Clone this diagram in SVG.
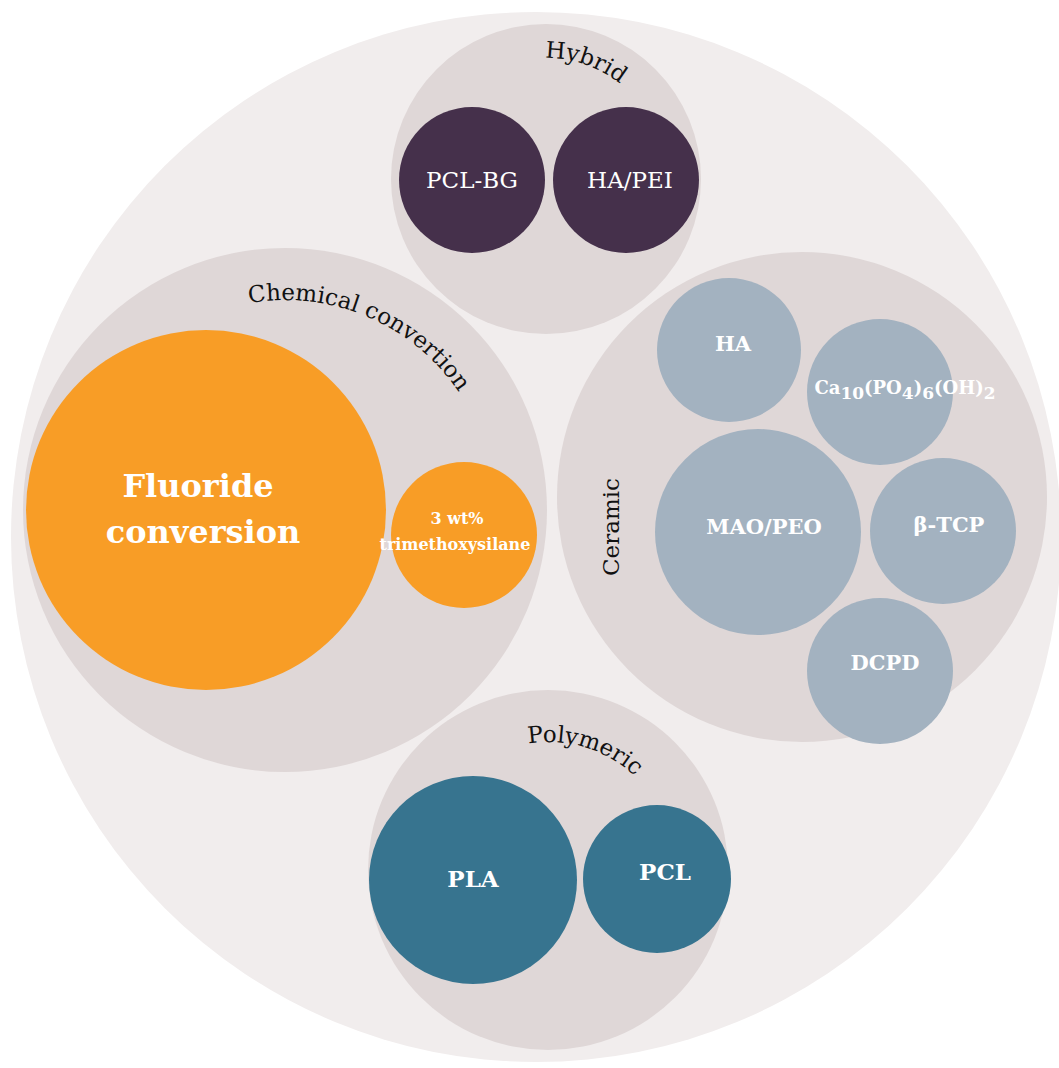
<svg xmlns="http://www.w3.org/2000/svg" width="1059" height="1068" viewBox="0 0 1059 1068">
<style>
.grp{fill:#DFD7D7}
.hy{fill:#45304B}
.or{fill:#F89D26}
.ce{fill:#A3B2C0}
.po{fill:#37748F}
.lbl{font-family:"DejaVu Serif","Liberation Serif",serif;font-size:23px;fill:#111}
.w{font-family:"DejaVu Serif","Liberation Serif",serif;fill:#FFFFFF;text-anchor:middle}
.b{font-weight:bold}
</style>
<defs>
<path id="pHy" d="M 426 178 A 120 120 0 0 1 666 178"/>
<path id="pCh" d="M 75 510 A 210 210 0 0 1 495 510"/>
<path id="pPo" d="M 420 870 A 128 128 0 0 1 676 870"/>
</defs>
<rect width="1059" height="1068" fill="#FFFFFF"/>
<g id="outer"><circle cx="536" cy="537" r="525" fill="#F1EDED"/></g>
<g id="connectors"></g>
<g id="hybrid">
<circle class="grp" cx="546" cy="179" r="155"/>
<text class="lbl"><textPath href="#pHy" startOffset="228" text-anchor="middle">Hybrid</textPath></text>
</g>
<g id="pcl-bg"><circle class="hy" cx="472" cy="180" r="73"/><text class="w" x="472" y="188" font-size="23">PCL-BG</text></g>
<g id="ha-pei"><circle class="hy" cx="626" cy="180" r="73"/><text class="w" x="630" y="188" font-size="23">HA/PEI</text></g>
<g id="chemical">
<circle class="grp" cx="285" cy="510" r="262"/>
<text class="lbl"><textPath href="#pCh" startOffset="414" text-anchor="middle">Chemical convertion</textPath></text>
</g>
<g id="fluoride"><circle class="or" cx="206" cy="510" r="180"/>
<text class="w b" font-size="32"><tspan x="198" y="497">Fluoride</tspan><tspan x="203" y="543">conversion</tspan></text></g>
<g id="silane"><circle class="or" cx="464" cy="535" r="73"/>
<text class="w b" font-size="16" fill="#FFF4DC"><tspan x="457" y="524">3 wt%</tspan><tspan x="455" y="550">trimethoxysilane</tspan></text></g>
<g id="ceramic">
<circle class="grp" cx="802" cy="497" r="245"/>
<text class="lbl" transform="translate(619 527) rotate(-90)" text-anchor="middle">Ceramic</text>
</g>
<g id="ha"><circle class="ce" cx="729" cy="350" r="72"/><text class="w b" x="733" y="351" font-size="21">HA</text></g>
<g id="ca"><circle class="ce" cx="880" cy="392" r="73"/>
<text class="w b" x="905" y="394" font-size="18">Ca<tspan font-size="17" dy="5">10</tspan><tspan dy="-5">(PO</tspan><tspan font-size="17" dy="5">4</tspan><tspan dy="-5">)</tspan><tspan font-size="17" dy="5">6</tspan><tspan dy="-5">(OH)</tspan><tspan font-size="17" dy="5">2</tspan></text></g>
<g id="mao"><circle class="ce" cx="758" cy="532" r="103"/><text class="w b" x="764" y="534" font-size="21">MAO/PEO</text></g>
<g id="tcp"><circle class="ce" cx="943" cy="531" r="73"/><text class="w b" x="949" y="532" font-size="21">β-TCP</text></g>
<g id="dcpd"><circle class="ce" cx="880" cy="671" r="73"/><text class="w b" x="885" y="670" font-size="21">DCPD</text></g>
<g id="polymeric">
<circle class="grp" cx="548" cy="870" r="180"/>
<text class="lbl"><textPath href="#pPo" startOffset="239" text-anchor="middle">Polymeric</textPath></text>
</g>
<g id="pla"><circle class="po" cx="473" cy="880" r="104"/><text class="w b" x="473" y="887" font-size="23">PLA</text></g>
<g id="pcl"><circle class="po" cx="657" cy="879" r="74"/><text class="w b" x="665" y="880" font-size="23">PCL</text></g>
</svg>
